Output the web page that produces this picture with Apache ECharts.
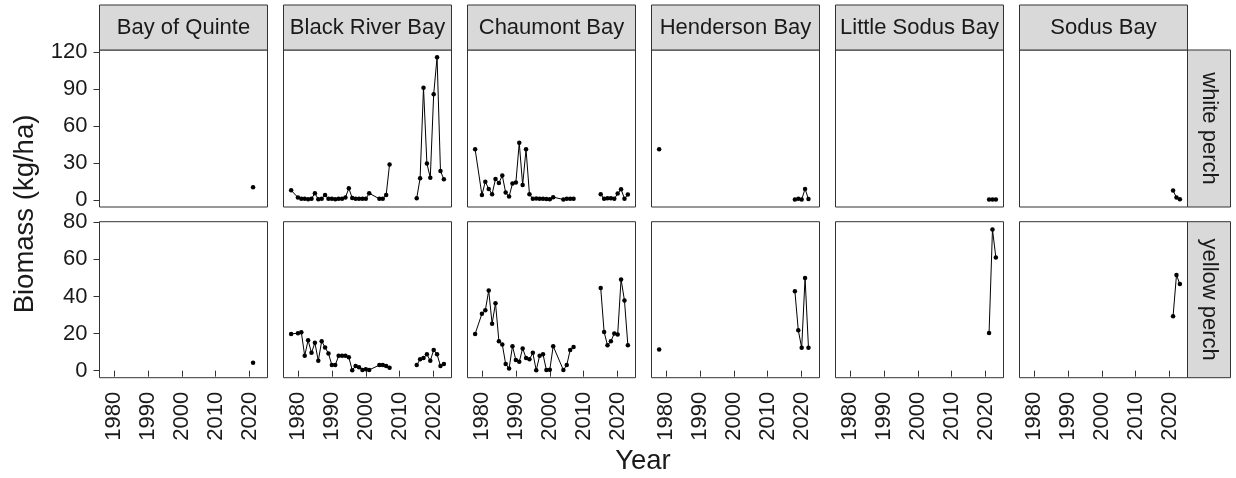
<!DOCTYPE html>
<html>
<head>
<meta charset="utf-8">
<script src="https://cdn.jsdelivr.net/npm/echarts@6/dist/echarts.min.js"></script>
<style>html,body{margin:0;padding:0;background:#fff}#c{width:1236px;height:478px}</style>
</head>
<body>
<div id="c"></div>
<script>
// ---------- data ----------
const bays = ['Bay of Quinte', 'Black River Bay', 'Chaumont Bay', 'Henderson Bay', 'Little Sodus Bay', 'Sodus Bay'];
const species = ['white perch', 'yellow perch'];
const xTicks = [1980, 1990, 2000, 2010, 2020];
const yTicksWhite = [0, 30, 60, 90, 120];
const yTicksYellow = [0, 20, 40, 60, 80];

// null marks a break in the line
const yearsLong = [1978, 1980, 1981, 1982, 1983, 1984, 1985, 1986, 1987, 1988, 1989, 1990, 1991, 1992, 1993, 1994,
  1995, 1996, 1997, 1998, 1999, 2000, 2001, 2004, 2005, 2006, 2007, null,
  2015, 2016, 2017, 2018, 2019, 2020, 2021, 2022, 2023];
const yearsQuinte = [2021];
const yearsHenderson = [1978, null, 2018, 2019, 2020, 2021, 2022];
const yearsSodus = [2021, 2022, 2023];

const quinteWhite = [10.3];
const quinteYellow = [4.3];
const blackRiverWhite = [7.8, 1.9, 0.8, 0.8, 0.5, 1.0, 5.4, 0.5, 1.0, 4.0, 0.8, 0.8, 0.5, 0.8, 1.0, 2.0,
  9.4, 1.5, 0.8, 1.0, 0.8, 0.8, 5.4, 0.8, 0.8, 4.0, 28.8, null,
  1.3, 17.5, 91.1, 29.6, 18.0, 85.7, 115.9, 23.4, 16.7];
const blackRiverYellow = [19.8, 20.2, 20.7, 8.0, 16.4, 9.6, 15.0, 5.3, 15.9, 12.5, 9.3, 3.0, 3.0, 8.0, 8.0, 8.0,
  7.2, 0.2, 2.5, 1.8, 0.4, 0.8, 0.4, 3.0, 3.0, 2.5, 1.6, null,
  3.0, 6.1, 6.8, 8.9, 5.3, 11.1, 8.8, 2.5, 3.6];
const chaumontWhite = [41.0, 4.0, 14.8, 8.9, 4.6, 17.0, 13.7, 19.7, 5.9, 2.7, 13.2, 14.0, 46.3, 12.1, 41.0, 4.6,
  0.8, 1.2, 0.8, 1.0, 0.6, 0.5, 2.2, 0.3, 1.0, 0.8, 1.0, null,
  4.6, 0.8, 1.4, 1.4, 0.8, 5.1, 8.6, 1.0, 4.3];
const chaumontYellow = [19.8, 30.7, 32.5, 43.2, 25.3, 36.4, 15.9, 14.1, 3.6, 1.1, 13.2, 5.7, 4.8, 12.0, 6.8, 6.1,
  9.6, 0.2, 8.0, 8.8, 0.3, 0.5, 13.2, 0.3, 3.0, 11.1, 12.7, null,
  44.6, 20.9, 13.7, 15.9, 20.0, 19.5, 49.2, 37.8, 13.7];
const hendersonWhite = [41.2, null, 0.2, 0.8, 0.3, 8.9, 0.6];
const hendersonYellow = [11.4, null, 42.8, 21.8, 12.3, 50.0, 12.3];
const littleSodusWhite = [0.3, 0.3, 0.3];
const littleSodusYellow = [20.3, 76.1, 61.0];
const sodusWhite = [7.5, 1.9, 0.5];
const sodusYellow = [29.3, 51.5, 46.7];

const panelYears = [yearsQuinte, yearsLong, yearsLong, yearsHenderson, yearsSodus, yearsSodus];
const panelValues = [
  [quinteWhite, blackRiverWhite, chaumontWhite, hendersonWhite, littleSodusWhite, sodusWhite],
  [quinteYellow, blackRiverYellow, chaumontYellow, hendersonYellow, littleSodusYellow, sodusYellow]
];

// ---------- layout ----------
const FONT = 'Liberation Sans, Arial, sans-serif';
const TXT = '#1a1a1a';
const BORDER = '#333333';
const STRIP = '#d9d9d9';
const PW = 168, LEFT0 = 99.5, STEP = 184;
const rowTop = [50, 221.7], rowH = [157, 156];
const yRange = [[-5.8, 121.7], [-3.8, 80.3]];
const yTicks = [yTicksWhite, yTicksYellow];

const grids = [], xAxes = [], yAxes = [], series = [], graphics = [];

for (let j = 0; j < 2; j++) {
  for (let i = 0; i < 6; i++) {
    const k = j * 6 + i;
    grids.push({left: LEFT0 + i * STEP, top: rowTop[j], width: PW, height: rowH[j],
      show: true, borderColor: BORDER, borderWidth: 1, backgroundColor: '#fff'});
    xAxes.push({gridIndex: k, type: 'value', min: 1975.75, max: 2025.25,
      axisLine: {show: false}, splitLine: {show: false},
      axisTick: {show: j === 1, length: 6, lineStyle: {color: BORDER, width: 1}, customValues: xTicks},
      axisLabel: {show: j === 1, rotate: 90, customValues: xTicks, formatter: v => String(v),
        fontSize: 22, fontFamily: FONT, color: TXT, margin: 14}
    });
    yAxes.push({gridIndex: k, type: 'value', min: yRange[j][0], max: yRange[j][1],
      axisLine: {show: false}, splitLine: {show: false},
      axisTick: {show: i === 0, length: 6, lineStyle: {color: BORDER, width: 1}, customValues: yTicks[j]},
      axisLabel: {show: i === 0, customValues: yTicks[j], formatter: v => String(v),
        fontSize: 22, fontFamily: FONT, color: TXT, margin: 12}
    });
    // split into segments
    const yrs = panelYears[i], vals = panelValues[j][i];
    let seg = [];
    const segs = [];
    for (let n = 0; n < yrs.length; n++) {
      if (yrs[n] === null) { if (seg.length) segs.push(seg); seg = []; }
      else seg.push([yrs[n], vals[n]]);
    }
    if (seg.length) segs.push(seg);
    segs.forEach(s => series.push({
      type: 'line', xAxisIndex: k, yAxisIndex: k, data: s,
      symbol: 'circle', symbolSize: 4.5, showSymbol: true, showAllSymbol: true,
      itemStyle: {color: '#000'}, lineStyle: {color: '#000', width: 1},
      emphasis: {disabled: true}, silent: true
    }));
  }
}

// top strips
bays.forEach((b, i) => {
  const x = LEFT0 + i * STEP;
  graphics.push({type: 'rect', shape: {x: x, y: 5, width: PW, height: 45},
    style: {fill: STRIP, stroke: BORDER, lineWidth: 1}, z: 10});
  graphics.push({type: 'text', x: x + PW / 2, y: 28, z: 11,
    style: {text: b, font: '22px ' + FONT, fill: TXT, textAlign: 'center', textVerticalAlign: 'middle'}});
});
// right strips
species.forEach((s, j) => {
  const x = LEFT0 + 5 * STEP + PW;
  graphics.push({type: 'rect', shape: {x: x, y: rowTop[j], width: 43, height: rowH[j]},
    style: {fill: STRIP, stroke: BORDER, lineWidth: 1}, z: 10});
  graphics.push({type: 'text', x: x + 22, y: rowTop[j] + rowH[j] / 2, rotation: -Math.PI / 2, z: 11,
    style: {text: s, font: '22px ' + FONT, fill: TXT, textAlign: 'center', textVerticalAlign: 'middle'}});
});
// axis titles
graphics.push({type: 'text', x: 25, y: 214, rotation: Math.PI / 2, z: 11,
  style: {text: 'Biomass (kg/ha)', font: '27.5px ' + FONT, fill: TXT, textAlign: 'center', textVerticalAlign: 'middle'}});
graphics.push({type: 'text', x: 643, y: 461, z: 11,
  style: {text: 'Year', font: '27.5px ' + FONT, fill: TXT, textAlign: 'center', textVerticalAlign: 'middle'}});

const chart = echarts.init(document.getElementById('c'));
chart.setOption({
  animation: false,
  backgroundColor: '#fff',
  grid: grids, xAxis: xAxes, yAxis: yAxes, series: series,
  graphic: graphics
});
</script>
</body>
</html>
